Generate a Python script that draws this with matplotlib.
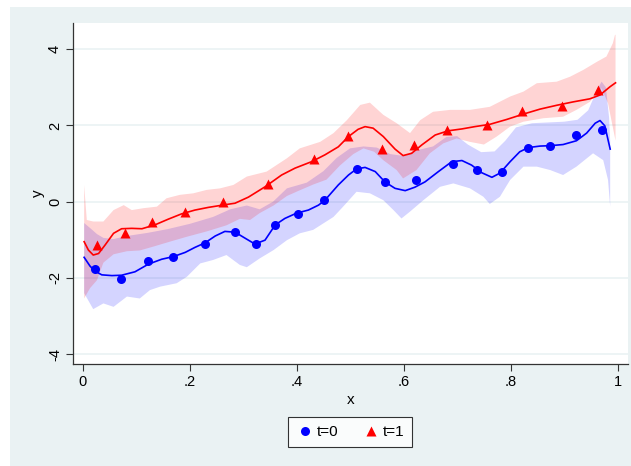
import matplotlib
matplotlib.use("Agg")
import matplotlib.pyplot as plt
from matplotlib.lines import Line2D
from matplotlib.patches import Rectangle

plt.rcParams["font.family"] = ["Liberation Sans", "DejaVu Sans"]

# observed points
x_t0 = [0.023, 0.072, 0.122, 0.169, 0.228, 0.284, 0.324, 0.360, 0.402, 0.451,
        0.512, 0.565, 0.623, 0.693, 0.738, 0.783, 0.832, 0.873, 0.923, 0.970]
y_t0 = [-1.76, -2.04, -1.55, -1.46, -1.11, -0.80, -1.11, -0.61, -0.31, 0.04,
        0.87, 0.51, 0.56, 0.98, 0.83, 0.78, 1.42, 1.46, 1.74, 1.89]
x_t1 = [0.027, 0.079, 0.130, 0.191, 0.263, 0.347, 0.433, 0.497, 0.559, 0.619,
        0.681, 0.755, 0.822, 0.896, 0.964]
y_t1 = [-1.14, -0.81, -0.52, -0.28, -0.01, 0.47, 1.13, 1.73, 1.37, 1.48,
        1.88, 2.00, 2.38, 2.52, 2.92]

# fitted curves
fit0_x = [0.003, 0.014, 0.023, 0.036, 0.055, 0.073, 0.098, 0.123, 0.148, 0.170,
          0.192, 0.210, 0.229, 0.248, 0.266, 0.285, 0.304, 0.322, 0.341, 0.360,
          0.378, 0.400, 0.422, 0.441, 0.453, 0.478, 0.497, 0.512, 0.528, 0.547,
          0.565, 0.584, 0.603, 0.621, 0.640, 0.665, 0.690, 0.709, 0.727, 0.746,
          0.765, 0.780, 0.799, 0.817, 0.833, 0.855, 0.874, 0.898, 0.923, 0.942,
          0.958, 0.967, 0.976, 0.986]
fit0_y = [-1.46, -1.69, -1.82, -1.92, -1.94, -1.93, -1.84, -1.64, -1.51, -1.44,
          -1.33, -1.20, -1.08, -0.90, -0.78, -0.80, -0.96, -1.11, -1.01, -0.61,
          -0.44, -0.30, -0.22, -0.09, 0.04, 0.44, 0.70, 0.86, 0.90, 0.79,
          0.52, 0.35, 0.29, 0.38, 0.52, 0.79, 1.05, 1.08, 0.96, 0.76,
          0.64, 0.75, 1.05, 1.31, 1.42, 1.46, 1.47, 1.50, 1.60, 1.80,
          2.06, 2.13, 1.99, 1.38]
fit1_x = [0.003, 0.011, 0.020, 0.030, 0.042, 0.058, 0.073, 0.092, 0.111, 0.135,
          0.160, 0.185, 0.210, 0.235, 0.266, 0.285, 0.310, 0.341, 0.372, 0.397,
          0.428, 0.453, 0.478, 0.497, 0.515, 0.528, 0.543, 0.562, 0.584, 0.599,
          0.615, 0.634, 0.659, 0.683, 0.709, 0.733, 0.761, 0.793, 0.824, 0.855,
          0.886, 0.917, 0.948, 0.967, 0.986, 0.996]
fit1_y = [-1.05, -1.27, -1.40, -1.36, -1.14, -0.83, -0.71, -0.70, -0.71, -0.61,
          -0.46, -0.32, -0.22, -0.15, -0.08, -0.04, 0.12, 0.39, 0.70, 0.88,
          1.05, 1.23, 1.44, 1.71, 1.90, 1.97, 1.93, 1.71, 1.38, 1.21,
          1.27, 1.49, 1.75, 1.86, 1.91, 1.97, 2.03, 2.16, 2.30, 2.43,
          2.53, 2.62, 2.70, 2.80, 3.02, 3.12]

# confidence bands
lo0_x = [0.003, 0.020, 0.039, 0.058, 0.083, 0.107, 0.126, 0.145, 0.176, 0.195,
         0.220, 0.244, 0.269, 0.294, 0.307, 0.331, 0.357, 0.382, 0.406, 0.431,
         0.450, 0.469, 0.487, 0.512, 0.537, 0.562, 0.581, 0.596, 0.612, 0.637,
         0.668, 0.693, 0.724, 0.749, 0.761, 0.780, 0.799, 0.824, 0.849, 0.874,
         0.898, 0.923, 0.954, 0.973, 0.982, 0.986]
lo0_y = [-2.40, -2.82, -2.67, -2.76, -2.49, -2.54, -2.32, -2.23, -2.14, -1.97,
         -1.62, -1.53, -1.40, -1.66, -1.72, -1.49, -1.27, -1.01, -0.83, -0.74,
         -0.57, -0.40, -0.13, 0.26, 0.22, 0.04, -0.22, -0.44, -0.26, 0.04,
         0.39, 0.48, 0.35, 0.13, -0.06, 0.13, 0.57, 0.92, 0.92, 0.83,
         0.70, 0.92, 1.27, 1.09, 0.57, -0.13]
hi0_x = [0.003, 0.014, 0.027, 0.039, 0.058, 0.083, 0.121, 0.159, 0.201, 0.244,
         0.276, 0.307, 0.331, 0.356, 0.382, 0.419, 0.450, 0.475, 0.500, 0.525,
         0.550, 0.575, 0.600, 0.625, 0.655, 0.680, 0.700, 0.720, 0.745, 0.770,
         0.790, 0.810, 0.840, 0.870, 0.900, 0.925, 0.945, 0.962, 0.970, 0.978,
         0.984, 0.986]
hi0_y = [-0.56, -0.69, -0.85, -0.95, -0.98, -0.90, -0.82, -0.72, -0.58, -0.40,
         -0.20, -0.10, -0.20, 0.00, 0.35, 0.50, 0.80, 1.15, 1.40, 1.45,
         1.42, 1.25, 1.20, 1.35, 1.45, 1.70, 1.72, 1.50, 1.30, 1.32,
         1.60, 1.95, 2.06, 2.08, 2.10, 2.15, 2.40, 2.95, 3.15, 3.00,
         2.20, 1.60]
lo1_x = [0.003, 0.014, 0.027, 0.039, 0.058, 0.083, 0.107, 0.132, 0.163, 0.195,
         0.232, 0.269, 0.294, 0.313, 0.331, 0.357, 0.382, 0.406, 0.431, 0.456,
         0.481, 0.506, 0.525, 0.545, 0.562, 0.587, 0.599, 0.624, 0.649, 0.674,
         0.699, 0.724, 0.750, 0.774, 0.799, 0.824, 0.861, 0.898, 0.923, 0.948,
         0.970, 0.982, 0.992, 0.996]
lo1_y = [-2.54, -2.27, -2.06, -1.60, -1.38, -1.30, -1.28, -1.18, -1.05, -0.92,
         -0.78, -0.62, -0.45, -0.48, -0.30, -0.10, 0.15, 0.30, 0.45, 0.58,
         0.95, 1.25, 1.40, 1.31, 1.09, 0.83, 0.61, 0.83, 1.27, 1.53,
         1.66, 1.57, 1.50, 1.71, 1.97, 2.10, 2.19, 2.23, 2.41, 2.62,
         2.98, 2.58, 1.88, 1.60]
hi1_x = [0.003, 0.008, 0.020, 0.039, 0.058, 0.077, 0.092, 0.114, 0.139, 0.157,
         0.182, 0.207, 0.232, 0.257, 0.282, 0.307, 0.344, 0.382, 0.406, 0.444,
         0.469, 0.494, 0.519, 0.537, 0.562, 0.587, 0.612, 0.631, 0.655, 0.687,
         0.724, 0.761, 0.799, 0.824, 0.849, 0.886, 0.911, 0.936, 0.961, 0.979,
         0.991, 0.995, 0.996]
hi1_y = [0.44, -0.48, -0.52, -0.52, -0.22, -0.09, -0.22, -0.17, -0.13, 0.09,
         0.18, 0.22, 0.31, 0.35, 0.44, 0.66, 0.79, 1.14, 1.40, 1.57,
         1.80, 2.14, 2.54, 2.60, 2.28, 2.06, 1.80, 2.14, 2.36, 2.41,
         2.41, 2.49, 2.76, 2.89, 3.11, 3.15, 3.28, 3.46, 3.67, 3.81,
         4.16, 4.38, 4.38]

x_ticks = [0, 0.2, 0.4, 0.6, 0.8, 1]
x_tick_labels = ["0", ".2", ".4", ".6", ".8", "1"]
y_ticks = [-4, -2, 0, 2, 4]
y_tick_labels = ["-4", "-2", "0", "2", "4"]

BG = "#eaf2f3"

fig = plt.figure(figsize=(6.31, 4.66), dpi=100)
fig.patch.set_facecolor("white")
fig.patches.append(Rectangle((10 / 631, 0), 1, 1 - 7 / 466, transform=fig.transFigure,
                             facecolor=BG, edgecolor="none", zorder=-10))

ax = fig.add_axes([73 / 631, 1 - 364 / 466, (628 - 73) / 631, (364 - 23) / 466])
ax.set_facecolor("white")

# bands
ax.fill(hi0_x + lo0_x[::-1], hi0_y + lo0_y[::-1], color="blue", alpha=0.17, lw=0, zorder=1)
ax.fill(hi1_x + lo1_x[::-1], hi1_y + lo1_y[::-1], color="red", alpha=0.17, lw=0, zorder=1)

ax.plot(fit0_x, fit0_y, color="blue", lw=1.2, zorder=3)
ax.plot(fit1_x, fit1_y, color="red", lw=1.2, zorder=3)
ax.plot(x_t0, y_t0, "o", color="blue", ms=6.5, mec="none", zorder=4)
ax.plot(x_t1, y_t1, "^", color="red", ms=7.5, mec="none", zorder=4)

ax.set_xlim(-0.0178, 1.0193)
ax.set_ylim(-4.26, 4.69)
ax.set_xticks(x_ticks)
ax.set_xticklabels(x_tick_labels)
ax.set_yticks(y_ticks)
ax.set_yticklabels(y_tick_labels, rotation=90, va="center")
ax.tick_params(length=5, width=0.8, labelsize=10.5, color="#333333", pad=3)
ax.grid(axis="y", color=BG, lw=1.2, zorder=0)
ax.set_axisbelow(True)
for side in ["top", "right"]:
    ax.spines[side].set_visible(False)
for side in ["left", "bottom"]:
    ax.spines[side].set_color("#333333")
    ax.spines[side].set_linewidth(0.9)

ax.set_xlabel("x", fontsize=11, labelpad=3)
ax.set_ylabel("y", fontsize=11, labelpad=2)

handles = [
    Line2D([], [], marker="o", ls="none", color="blue", ms=6.5, mec="none", label="t=0"),
    Line2D([], [], marker="^", ls="none", color="red", ms=7.5, mec="none", label="t=1"),
]
leg = fig.legend(handles=handles, loc="center", bbox_to_anchor=(350 / 631, 1 - 432 / 466),
                 ncol=2, frameon=True, fancybox=False, fontsize=11, handletextpad=0.2,
                 columnspacing=1.5, handlelength=1.2, borderpad=0.5)
leg.get_frame().set_edgecolor("black")
leg.get_frame().set_linewidth(0.8)

fig.savefig("out.png", dpi=100, facecolor=fig.get_facecolor())
